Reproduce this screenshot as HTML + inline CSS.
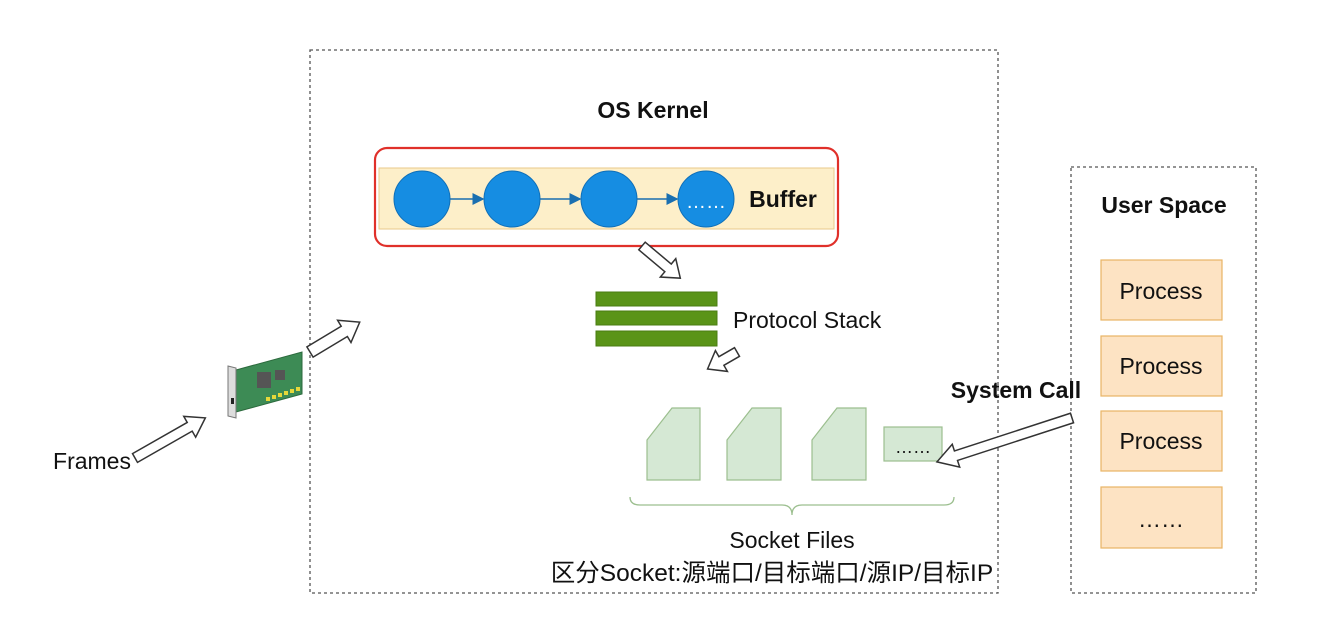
<!DOCTYPE html>
<html><head><meta charset="utf-8"><style>
html,body{margin:0;padding:0;background:#fff;}
svg{display:block;}
text{font-family:"Liberation Sans","Noto Sans CJK SC",sans-serif;fill:#111;}
</style></head><body>
<svg width="1333" height="628" viewBox="0 0 1333 628" xmlns="http://www.w3.org/2000/svg">
<defs>
<marker id="m" markerWidth="8" markerHeight="8" refX="7" refY="4" orient="auto"><path d="M0,0 L8,4 L0,8 z" fill="#1a6fb0"/></marker>
</defs>
<rect x="310" y="50" width="688" height="543" fill="none" stroke="#555" stroke-width="1.3" stroke-dasharray="3,3"/>
<rect x="1071" y="167" width="185" height="426" fill="none" stroke="#555" stroke-width="1.3" stroke-dasharray="3,3"/>
<text x="653" y="118" font-size="23" font-weight="bold" text-anchor="middle">OS Kernel</text>
<text x="1164" y="213" font-size="23" font-weight="bold" text-anchor="middle">User Space</text>
<rect x="379" y="168" width="455" height="61" fill="#fdefc9" stroke="#e9c98a" stroke-width="1"/>
<rect x="375" y="148" width="463" height="98" rx="12" fill="none" stroke="#e0302a" stroke-width="2.2"/>
<g fill="#168de2" stroke="#0f6fb8" stroke-width="1">
<circle cx="422" cy="199" r="28"/><circle cx="512" cy="199" r="28"/><circle cx="609" cy="199" r="28"/><circle cx="706" cy="199" r="28"/>
</g>
<g stroke="#1a6fb0" stroke-width="1.5" marker-end="url(#m)">
<line x1="450" y1="199" x2="483" y2="199"/><line x1="540" y1="199" x2="580" y2="199"/><line x1="637" y1="199" x2="677" y2="199"/>
</g>
<text x="706" y="208" font-size="20" text-anchor="middle" style="fill:#fff">……</text>
<text x="783" y="207" font-size="23" font-weight="bold" text-anchor="middle">Buffer</text>
<g fill="#5a9418" stroke="#4a7d12" stroke-width="1">
<rect x="596" y="292" width="121" height="14"/><rect x="596" y="311" width="121" height="14"/><rect x="596" y="331" width="121" height="15"/>
</g>
<text x="733" y="328" font-size="23">Protocol Stack</text>
<g fill="#d5e8d4" stroke="#9cbf8f" stroke-width="1.2">
<polygon points="647,440 672,408 700,408 700,480 647,480"/>
<polygon points="727,440 752,408 781,408 781,480 727,480"/>
<polygon points="812,440 837,408 866,408 866,480 812,480"/>
<rect x="884" y="427" width="58" height="34"/>
</g>
<text x="913" y="453" font-size="18" text-anchor="middle">……</text>
<path d="M630,497 Q630,505 640,505 L782,505 Q792,505 792,515 Q792,505 802,505 L944,505 Q954,505 954,497" fill="none" stroke="#9cbf8f" stroke-width="1.3"/>
<text x="792" y="548" font-size="23" text-anchor="middle">Socket Files</text>
<text x="772" y="581" font-size="24.5" text-anchor="middle">区分Socket:源端口/目标端口/源IP/目标IP</text>
<g fill="#fde3c3" stroke="#e8b465" stroke-width="1.2">
<rect x="1101" y="260" width="121" height="60"/><rect x="1101" y="336" width="121" height="60"/><rect x="1101" y="411" width="121" height="60"/><rect x="1101" y="487" width="121" height="61"/>
</g>
<g font-size="23" text-anchor="middle">
<text x="1161" y="299">Process</text><text x="1161" y="374">Process</text><text x="1161" y="449">Process</text><text x="1161" y="527">……</text>
</g>
<text x="1016" y="398" font-size="23" font-weight="bold" text-anchor="middle">System Call</text>
<text x="92" y="469" font-size="23" text-anchor="middle">Frames</text>
<g fill="#fff" stroke="#333" stroke-width="1.5">
<polygon transform="translate(135,458) rotate(-29.7)" points="0,-5 63,-5 63,-12 81,0 63,12 63,5 0,5"/>
<polygon transform="translate(310,352) rotate(-31)" points="0,-6 40,-6 40,-13 58,0 40,13 40,6 0,6"/>
<polygon transform="translate(642,246) rotate(40)" points="0,-5 34,-5 34,-12 50,0 34,12 34,5 0,5"/>
<polygon transform="translate(737,352) rotate(150)" points="0,-5 18,-5 18,-12 34,0 18,12 18,5 0,5"/>
<polygon transform="translate(1072,418) rotate(162)" points="0,-5 122,-5 122,-12 142,0 122,12 122,5 0,5"/>
</g>
<g>
<polygon points="236,370 302,352 302,394 236,412" fill="#3d8b55" stroke="#2c6a3d" stroke-width="1"/>
<rect x="257" y="372" width="14" height="16" fill="#555"/>
<rect x="275" y="370" width="10" height="10" fill="#555"/>
<g fill="#e6d83a"><rect x="266" y="397" width="4" height="4"/><rect x="272" y="395" width="4" height="4"/><rect x="278" y="393" width="4" height="4"/><rect x="284" y="391" width="4" height="4"/><rect x="290" y="389" width="4" height="4"/><rect x="296" y="387" width="4" height="4"/></g>
<polygon points="228,366 236,368 236,418 228,416" fill="#ddd" stroke="#777" stroke-width="1"/>
<rect x="231" y="398" width="3" height="6" fill="#222"/>
</g>
</svg>
</body></html>
